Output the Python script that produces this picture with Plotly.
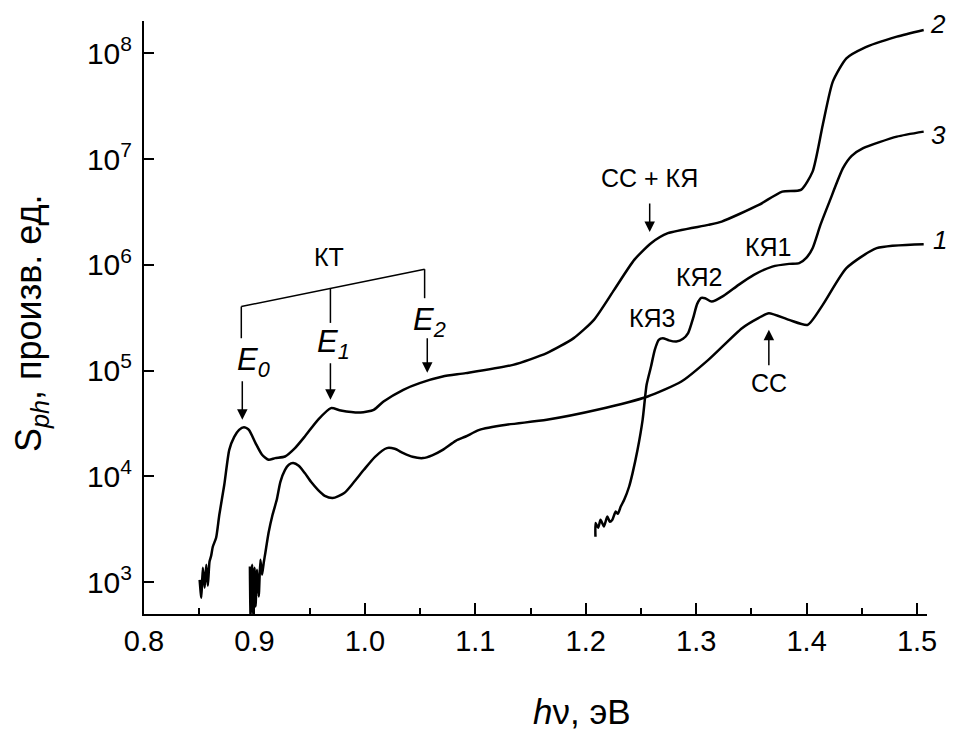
import plotly.graph_objects as go

# ---------------- data ----------------
x_curve2 = [0.8504, 0.8519, 0.8533, 0.8549, 0.8564, 0.8578, 0.8593, 0.8608, 0.8623, 0.8653,
            0.8682, 0.8727, 0.8772, 0.8817, 0.8861, 0.8905, 0.8950, 0.9010, 0.9069, 0.9129,
            0.9188, 0.9277, 0.9367, 0.9456, 0.9575, 0.9693, 0.9782, 0.9961, 1.0080, 1.0169,
            1.0348, 1.0496, 1.0705, 1.0913, 1.1342, 1.1647, 1.1891, 1.2074, 1.2257, 1.2439,
            1.2591, 1.2744, 1.3110, 1.3231, 1.3567, 1.3780, 1.3948, 1.4054, 1.4146, 1.4237,
            1.4360, 1.4512, 1.4817, 1.5060]
y_curve2 = [1051, 711, 1365, 884, 1457, 923, 1556, 1773, 2156, 2623,
            4326, 8312, 17800, 23600, 27500, 29170, 27510, 20600, 15970, 14320,
            14860, 15390, 18470, 23780, 34200, 44120, 41880, 40090, 42520, 50930,
            65700, 76030, 87770, 94500, 113200, 146000, 202500, 301500, 579000, 1.112e6,
            1.600e6, 1.989e6, 2.383e6, 2.561e6, 3.683e6, 4.919e6, 5.105e6, 7.601e6, 2.101e7, 5.390e7,
            8.968e7, 1.115e8, 1.435e8, 1.661e8]

x_curve1 = [0.8959, 0.8965, 0.8979, 0.8990, 0.9001, 0.9010, 0.9024, 0.9039, 0.9054, 0.9069,
            0.9084, 0.9099, 0.9128, 0.9164, 0.9202, 0.9235, 0.9277, 0.9311, 0.9351, 0.9401,
            0.9456, 0.9512, 0.9575, 0.9637, 0.9708, 0.9813, 0.9896, 0.9991, 1.0092, 1.0199,
            1.0270, 1.0348, 1.0431, 1.0526, 1.0609, 1.0705, 1.0823, 1.0913, 1.1037, 1.1281,
            1.1647, 1.2104, 1.2561, 1.2866, 1.3110, 1.3415, 1.3567, 1.3658, 1.3841, 1.4009,
            1.4146, 1.4360, 1.4634, 1.5060]
y_curve1 = [1404, 480, 1457, 480, 1365, 588, 1307, 731, 1625, 1172,
            1522, 1892, 2924, 4325, 5996, 8872, 11520, 12850, 13330, 12570,
            10720, 8872, 7456, 6542, 6223, 6937, 8681, 11520, 15290, 18470,
            18190, 16570, 15290, 14860, 15790, 17800, 21650, 23780, 27510, 30680,
            34200, 42520, 56800, 78700, 126200, 251600, 314900, 348800, 301500, 270400,
            417800, 928800, 1.435e6, 1.565e6]

x_curve3 = [1.2088, 1.2089, 1.2113, 1.2134, 1.2165, 1.2195, 1.2218, 1.2241, 1.2271, 1.2291,
            1.2317, 1.2348, 1.2393, 1.2424, 1.2469, 1.2515, 1.2551, 1.2591, 1.2625, 1.2661,
            1.2698, 1.2753, 1.2820, 1.2881, 1.2927, 1.2973, 1.3009, 1.3046, 1.3080, 1.3140,
            1.3247, 1.3384, 1.3522, 1.3689, 1.3841, 1.3933, 1.3997, 1.4054, 1.4125, 1.4207,
            1.4329, 1.4408, 1.4512, 1.4817, 1.5060]
y_curve3 = [2681, 3612, 3261, 3880, 3354, 4169, 3715, 3880, 4648, 4421,
            5183, 5996, 8009, 10720, 17800, 34200, 73260, 109100, 156900, 195100,
            202500, 192900, 188000, 199400, 225700, 314900, 426900, 486500, 483300, 449000,
            508100, 645700, 802700, 961600, 1.020e6, 1.035e6, 1.162e6, 1.435e6, 2.383e6, 3.958e6,
            8.185e6, 1.070e7, 1.265e7, 1.628e7, 1.816e7]

x_ticks = [0.8, 0.9, 1.0, 1.1, 1.2, 1.3, 1.4, 1.5]
y_tickvals = [1e3, 1e4, 1e5, 1e6, 1e7, 1e8]
y_ticktext = ["10<sup>3</sup>", "10<sup>4</sup>", "10<sup>5</sup>",
              "10<sup>6</sup>", "10<sup>7</sup>", "10<sup>8</sup>"]

# bracket for "КТ" (x, y) in data coordinates
bracket_top_x = [0.8881, 1.0541]
bracket_top_y = [4.03e5, 9.08e5]
bracket_legs = [([0.8881, 0.8881], [4.03e5, 2.02e5]),
                ([0.9688, 0.9688], [5.98e5, 2.82e5]),
                ([1.0541, 1.0541], [9.08e5, 4.83e5])]

FONT = "Liberation Sans, Arial, sans-serif"
LW = 2.5

fig = go.Figure()
for xs, ys in [(x_curve2, y_curve2), (x_curve1, y_curve1), (x_curve3, y_curve3)]:
    fig.add_trace(go.Scatter(x=xs, y=ys, mode="lines",
                             line=dict(color="black", width=LW, shape="spline", smoothing=0.6),
                             showlegend=False, hoverinfo="skip"))

fig.add_trace(go.Scatter(x=bracket_top_x, y=bracket_top_y, mode="lines",
                         line=dict(color="black", width=1.5), showlegend=False, hoverinfo="skip"))
for bx, by in bracket_legs:
    fig.add_trace(go.Scatter(x=bx, y=by, mode="lines",
                             line=dict(color="black", width=1.5), showlegend=False, hoverinfo="skip"))

annotations = []

def label(x, logy, text, size=25, italic=False, ref="data"):
    t = f"<i>{text}</i>" if italic else text
    xr, yr = ("x", "y") if ref == "data" else ("paper", "paper")
    annotations.append(dict(x=x, y=logy, xref=xr, yref=yr, text=t, showarrow=False,
                            font=dict(family=FONT, size=size, color="black"),
                            xanchor="center", yanchor="middle"))

def arrow(x, logy, ay):
    annotations.append(dict(x=x, y=logy, xref="x", yref="y", text="", showarrow=True,
                            ax=0, ay=ay, arrowhead=2, arrowsize=1.4, arrowwidth=1.5,
                            arrowcolor="black", standoff=0, startstandoff=0))

label(0.9679, 6.0775, "КТ")
label(0.8995, 5.0822, "E<sub>0</sub>", size=31, italic=True)
label(0.9717, 5.2524, "E<sub>1</sub>", size=31, italic=True)
label(1.0583, 5.4603, "E<sub>2</sub>", size=31, italic=True)
arrow(0.8890, 4.534, -40)
arrow(0.9688, 4.723, -38)
arrow(1.0565, 4.978, -36)
label(1.2577, 6.818, "СС + КЯ")
arrow(1.2579, 6.311, -30)
label(1.3658, 6.172, "КЯ1")
label(1.3034, 5.888, "КЯ2")
label(1.2607, 5.495, "КЯ3")
label(1.3658, 4.881, "СС")
arrow(1.3658, 5.385, 37)
# curve numbers (right of the plot area, paper coordinates)
label(1.0144, 0.9949, "2", size=26, italic=True, ref="paper")
label(1.0144, 0.8078, "3", size=26, italic=True, ref="paper")
label(1.0166, 0.6307, "1", size=26, italic=True, ref="paper")

# axis titles
annotations.append(dict(x=0.5594, y=-0.1636, xref="paper", yref="paper",
                        text="<i>h</i>ν, эВ", showarrow=False,
                        font=dict(family=FONT, size=35, color="black"),
                        xanchor="center", yanchor="middle"))
annotations.append(dict(x=-0.1443, y=0.4907, xref="paper", yref="paper",
                        text="S<sub><i>ph</i></sub>, произв. ед.", showarrow=False, textangle=-90,
                        font=dict(family=FONT, size=36, color="black"),
                        xanchor="center", yanchor="middle"))

# the page body has an 8 px margin, so the figure is 8 px smaller and margins shifted
fig.update_layout(
    width=947, height=725,
    margin=dict(l=136, r=28, t=13, b=119),
    paper_bgcolor="white", plot_bgcolor="white",
    font=dict(family=FONT, color="black"),
    annotations=annotations,
    xaxis=dict(range=[0.8, 1.509], tickvals=x_ticks, tickformat=".1f",
               ticks="inside", ticklen=11, tickwidth=1.5, tickcolor="black",
               showline=True, linewidth=2, linecolor="black", showgrid=False, zeroline=False,
               tickfont=dict(family=FONT, size=29, color="black"), ticklabelstandoff=0,
               minor=dict(dtick=0.05, tick0=0.8, ticks="inside", ticklen=6, tickwidth=1.5,
                          tickcolor="black", showgrid=False)),
    yaxis=dict(type="log", range=[2.698, 8.305], tickvals=y_tickvals, ticktext=y_ticktext,
               ticks="inside", ticklen=10, tickwidth=1.5, tickcolor="black",
               showline=True, linewidth=2, linecolor="black", showgrid=False, zeroline=False,
               tickfont=dict(family=FONT, size=30, color="black"), ticklabelstandoff=4),
)

fig.write_html("out.html")
